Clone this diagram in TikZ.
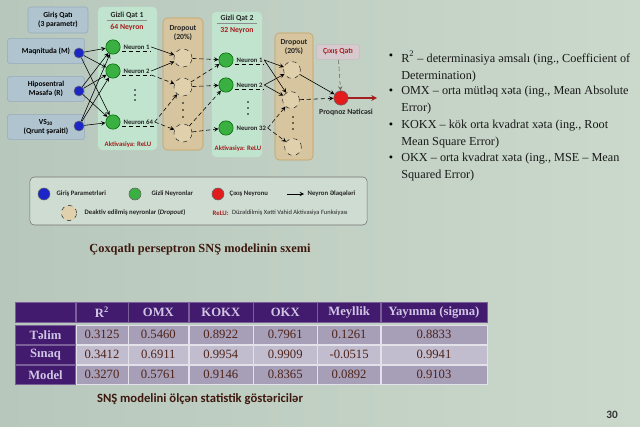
\documentclass[tikz,border=0pt]{standalone}
\usepackage{fontspec}
\setmainfont{Liberation Serif}
\setsansfont{Carlito}
\usetikzlibrary{shapes,arrows,positioning,matrix}
\definecolor{slide}{RGB}{202,217,203}
\definecolor{slidedark}{RGB}{184,199,188}
\definecolor{infill}{RGB}{176,196,207}
\definecolor{inedge}{RGB}{150,172,186}
\definecolor{hidfill}{RGB}{192,228,206}
\definecolor{dropfill}{RGB}{214,197,158}
\definecolor{dropedge}{RGB}{196,160,96}
\definecolor{circfill}{RGB}{224,208,172}
\definecolor{bluen}{RGB}{28,38,200}
\definecolor{greenn}{RGB}{58,176,66}
\definecolor{redn}{RGB}{226,28,28}
\definecolor{redtxt}{RGB}{165,30,30}
\definecolor{legfill}{RGB}{207,220,209}
\definecolor{outfill}{RGB}{216,201,206}
\definecolor{hdrfill}{RGB}{66,26,110}
\definecolor{hdrtxt}{RGB}{208,198,228}
\definecolor{rowa}{RGB}{166,159,183}
\definecolor{rowb}{RGB}{193,189,206}
\definecolor{valtxt}{RGB}{80,35,25}
\definecolor{captxt}{RGB}{62,24,14}

\begin{document}
\begin{tikzpicture}[x=0.025cm, y=-0.025cm, >=stealth, line width=0.4pt,
  lab/.style={font=\sffamily\bfseries\fontsize{4.8}{5.6}\selectfont, text=black!85, inner sep=1pt},
  ttl/.style={font=\sffamily\bfseries\fontsize{5.5}{6.6}\selectfont, text=black!85, align=center, inner sep=1pt},
  inbox/.style={draw=inedge, fill=infill, rounded corners=2pt, align=center, font=\sffamily\bfseries\fontsize{5.4}{6.6}\selectfont, minimum width=1.93cm, minimum height=0.63cm},
  neuron/.style={circle, draw=black!60, inner sep=0pt, minimum size=0.25cm},
  hneuron/.style={circle, draw=green!40!black, fill=greenn, inner sep=0pt, minimum size=0.36cm},
  dcirc/.style={circle, draw=black!80, dashed, fill=circfill, inner sep=0pt, minimum size=0.45cm},
  hpanel/.style={fill=hidfill, rounded corners=3pt},
  dpanel/.style={fill=dropfill, draw=dropedge, rounded corners=3pt},
  btxt/.style={font=\fontsize{8.7}{12}\selectfont, text=black!90, align=left, anchor=north west, inner sep=0pt}]

% slide
\shade[left color=slidedark, right color=slide] (0,0) rectangle (640,427);
\useasboundingbox (0,0) rectangle (640,427);

% input layer
\node[inbox, minimum width=1.5cm, minimum height=0.65cm] (ih) at (58,20) {Giriş Qatı\\(3 parametr)};
\node[inbox] (im) at (46,51) {Maqnituda (M)};
\node[inbox] (ir) at (46,89) {Hiposentral\\Məsafə (R)};
\node[inbox] (iv) at (46,127) {VS\textsubscript{30}\\(Qrunt şəraiti)};
\node[neuron, fill=bluen] (i1) at (79,53) {};
\node[neuron, fill=bluen] (i2) at (79,91) {};
\node[neuron, fill=bluen] (i3) at (79,126) {};

% hidden layer 1
\node[hpanel, minimum width=1.475cm, minimum height=3.575cm] (hp1) at (127.5,78.5) {};
\node[ttl] (ht1) at (127,15) {Gizli Qat 1};
\node[ttl, text=redtxt] (hn1) at (127,27) {64 Neyron};
\draw[black!45] ([xshift=-0.5cm]ht1.south) -- ([xshift=0.5cm]ht1.south);
\node[hneuron] (h1) at (113,47) {};
\node[hneuron] (h2) at (113,71) {};
\node[hneuron] (h3) at (113,122) {};
\node[lab, right=1pt of h1] (l1) {Neuron 1};
\node[lab, right=1pt of h2] (l2) {Neuron 2};
\node[lab, right=1pt of h3] (l3) {Neuron 64};
\fill (135,90) circle (0.7pt) (135,95) circle (0.7pt) (135,100) circle (0.7pt);
\node[lab, text=redtxt] (ha1) at (128,145) {Aktivasiya: ReLU};

% dropout 1
\node[dpanel, minimum width=1cm, minimum height=3.3cm] (dp1) at (183,84) {};
\node[ttl] (dt1) at (183,33) {Dropout\\(20\%)};
\node[dcirc] (d1) at (183,58) {};
\node[dcirc] (d2) at (183,87) {};
\node[dcirc] (d3) at (183,133) {};
\fill (183,103) circle (0.7pt) (183,110) circle (0.7pt) (183,117) circle (0.7pt);

% hidden layer 2
\node[hpanel, minimum width=1.25cm, minimum height=3.625cm] (hp2) at (237,84.5) {};
\node[ttl] (ht2) at (237,18) {Gizli Qat 2};
\node[ttl, text=redtxt] (hn2) at (237,31) {32 Neyron};
\draw[black!45] ([xshift=-0.5cm]ht2.south) -- ([xshift=0.5cm]ht2.south);
\node[hneuron] (g1) at (226,60) {};
\node[hneuron] (g2) at (226,85) {};
\node[hneuron] (g3) at (226,128) {};
\node[lab, right=1pt of g1] (m1) {Neuron 1};
\node[lab, right=1pt of g2] (m2) {Neuron 2};
\node[lab, right=1pt of g3] (m3) {Neuron 32};
\fill (248,102) circle (0.7pt) (248,108) circle (0.7pt) (248,114) circle (0.7pt);
\node[lab, text=redtxt] (ha2) at (238,149) {Aktivasiya: ReLU};

% dropout 2
\node[dpanel, minimum width=0.95cm, minimum height=3.175cm] (dp2) at (294,96.5) {};
\node[ttl] (dt2) at (294,47) {Dropout\\(20\%)};
\node[dcirc, minimum size=0.42cm] (e1) at (292,70) {};
\node[dcirc, minimum size=0.42cm] (e2) at (291,100) {};
\node[dcirc, minimum size=0.42cm] (e3) at (293,147) {};
\fill (293,117) circle (0.7pt) (293,123) circle (0.7pt) (293,129) circle (0.7pt);

% output
\node[ttl, text=redtxt, draw=black!25, fill=outfill, rounded corners=1.5pt, minimum width=1.08cm, minimum height=0.38cm] (ob) at (338,52) {Çıxış Qatı};
\node[neuron, fill=redn, minimum size=0.36cm] (o) at (341,98) {};
\node[ttl] (ol) at (346,112) {Proqnoz Nəticəsi};
\coordinate (oe) at (377,98);

% connections
\draw[->] (i1) -- (h1);
\draw[->] (i1) -- (h2);
\draw[->] (i1) -- (h3);
\draw[->] (i2) -- (h1);
\draw[->] (i2) -- (h2);
\draw[->] (i2) -- (h3);
\draw[->] (i3) -- (h1);
\draw[->] (i3) -- (h2);
\draw[->] (i3) -- (h3);
\draw[densely dashed] (l1.south west) -- (l1.south east);
\draw[densely dashed] (l2.south west) -- (l2.south east);
\draw[densely dashed] (l3.south west) -- (l3.south east);
\draw[->] (l1.east) -- (d1);
\draw[->] (l2.east) -- (d1);
\draw[->, densely dashed] (l2.south east) -- (d2);
\draw[->, densely dashed] (l3.east) -- (d2);
\draw[->, densely dashed] (l3.east) -- (d3);
\draw[->, densely dashed] (d1) -- (g1);
\draw[->, densely dashed] (d2) -- (g1);
\draw[->, densely dashed] (d2) -- (g2);
\draw[->, densely dashed] (d3) -- (g2);
\draw[->, densely dashed] (d3) -- (g3);
\draw[densely dashed] (m1.south west) -- (m1.south east);
\draw[densely dashed] (m2.south west) -- (m2.south east);
\draw[->] (m1.east) -- (e1);
\draw[->] (m1.east) -- (e2);
\draw[->] (m2.east) -- (e1);
\draw[->] (m2.east) -- (e2);
\draw[->, densely dashed] (m3.east) -- (e2);
\draw[->, densely dashed] (m3.east) -- (e3);
\draw[->] (e1) -- (o);
\draw[->, densely dashed] (e2) -- (o);
\draw[->, densely dashed, black!60] (ob) -- (o);
\draw[->, redtxt, line width=0.8pt] (o) -- (oe);

% legend
\node[draw=black!55, fill=legfill, rounded corners=3pt, minimum width=8.425cm, minimum height=1.2cm] (lg) at (198.5,201) {};
\node[neuron, fill=bluen, minimum size=0.3cm] (lc1) at (44,194) {};
\node[lab, anchor=west] (lt1) at (55,194) {Giriş Parametrləri};
\node[neuron, fill=greenn, minimum size=0.3cm] (lc2) at (135,194) {};
\node[lab, anchor=west] (lt2) at (150,194) {Gizli Neyronlar};
\node[neuron, fill=redn, minimum size=0.3cm] (lc3) at (218,194) {};
\node[lab, anchor=west] (lt3) at (228,194) {Çıxış Neyronu};
\coordinate (la) at (287,194);
\coordinate (lb) at (304,194);
\draw[->] (la) -- (lb);
\node[lab, anchor=west] (lt4) at (306,194) {Neyron Əlaqələri};
\node[dcirc, minimum size=0.38cm] (lc4) at (69,213) {};
\node[lab, anchor=west] (lt5) at (83,213) {Deaktiv edilmiş neyronlar (\textit{Dropout})};
\node[lab, anchor=west, text=redtxt] (lt6) at (211,213) {ReLU:};
\node[lab, anchor=west, inner xsep=0pt, font=\sffamily\fontsize{4.6}{5.6}\selectfont] (lt7) [right=1pt of lt6] {Düzəldilmiş Xətti Vahid Aktivasiya Funksiyası};

\node[font=\bfseries\fontsize{8.8}{10}\selectfont, text=captxt] (cap1) at (200,250) {Çoxqatlı perseptron SNŞ modelinin sxemi};

% bullets
\node[font=\fontsize{8.7}{12}\selectfont] (k1) at (391,57) {•};
\node[font=\fontsize{8.7}{12}\selectfont] (k2) at (391,92) {•};
\node[font=\fontsize{8.7}{12}\selectfont] (k3) at (391,126) {•};
\node[font=\fontsize{8.7}{12}\selectfont] (k4) at (391,159) {•};
\node[btxt] (t1) at (401,51) {R\textsuperscript{2} – determinasiya əmsalı (ing., Coefficient of\\Determination)};
\node[btxt] (t2) at (401,86) {OMX – orta mütləq xəta (ing., Mean Absolute\\Error)};
\node[btxt] (t3) at (401,120) {KOKX – kök orta kvadrat xəta (ing., Root\\Mean Square Error)};
\node[btxt] (t4) at (401,153) {OKX – orta kvadrat xəta (ing., MSE – Mean\\Squared Error)};

% table
\matrix (tab) [matrix of nodes, anchor=north west, inner sep=0pt, nodes in empty cells, column sep=0pt, row sep=0pt,
  nodes={minimum height=0.49cm, inner sep=0pt, outer sep=0pt, anchor=center, draw=white!55!rowb, line width=0.3pt, font=\fontsize{9}{10}\selectfont, text=valtxt},
  column 1/.style={nodes={minimum width=1.5cm}},
  column 2/.style={nodes={minimum width=1.3cm}},
  column 3/.style={nodes={minimum width=1.5cm}},
  column 4/.style={nodes={minimum width=1.6cm}},
  column 5/.style={nodes={minimum width=1.6cm}},
  column 6/.style={nodes={minimum width=1.57cm}},
  column 7/.style={nodes={minimum width=2.65cm}},
  row 1/.style={nodes={fill=hdrfill, text=hdrtxt, draw=hdrfill!70!white, minimum height=0.5cm, font=\bfseries\fontsize{9}{10}\selectfont}},
  row 2/.style={nodes={fill=rowa}},
  row 3/.style={nodes={fill=rowb}},
  row 4/.style={nodes={fill=rowa}},
  lbl/.style={fill=hdrfill, text=hdrtxt, draw=hdrfill!70!white, font=\bfseries\fontsize{9}{10}\selectfont}]
  at (15,302) {
    & R\textsuperscript{2} & OMX & KOKX & OKX & Meyllik & Yayınma (sigma) \\[0.05cm]
    |[lbl]| Təlim & 0.3125 & 0.5460 & 0.8922 & 0.7961 & 0.1261 & 0.8833 \\
    |[lbl]| Sınaq & 0.3412 & 0.6911 & 0.9954 & 0.9909 & -0.0515 & 0.9941 \\
    |[lbl]| Model & 0.3270 & 0.5761 & 0.9146 & 0.8365 & 0.0892 & 0.9103 \\
  };

\node[font=\sffamily\bfseries\fontsize{9}{10}\selectfont, text=captxt] (cap2) at (200,399) {SNŞ modelini ölçən statistik göstəricilər};
\node[font=\sffamily\bfseries\fontsize{8}{10}\selectfont, text=black!80] (pg) at (612,415) {30};
\end{tikzpicture}
\end{document}
